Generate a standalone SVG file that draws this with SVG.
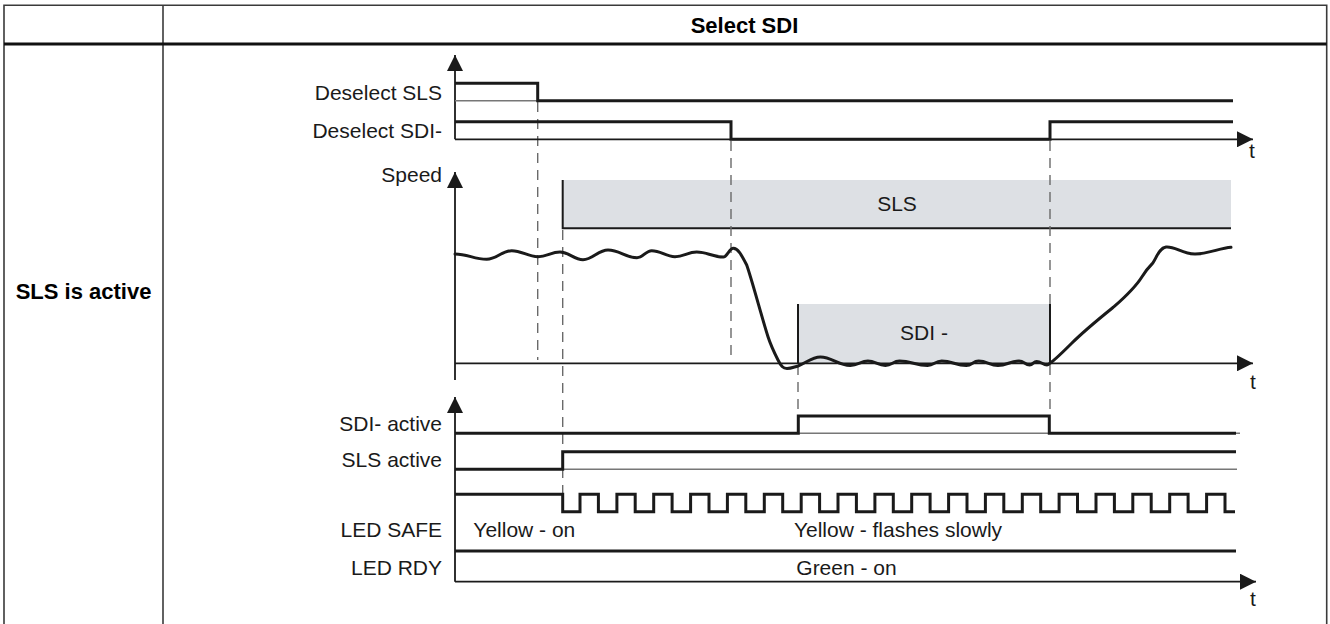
<svg xmlns="http://www.w3.org/2000/svg" width="1330" height="624" viewBox="0 0 1330 624">
<style>
.tbl{stroke:#3a3a3a;stroke-width:1.6;fill:none}
.hdr{stroke:#111;stroke-width:3.2;fill:none}
.lbl{font-family:"Liberation Sans",Arial,Helvetica,sans-serif;font-size:21px;fill:#1a1a1a}
.r{text-anchor:end}
.m{text-anchor:middle}
.bold{font-family:"Liberation Sans",Arial,Helvetica,sans-serif;font-size:22px;font-weight:bold;fill:#000}
.sig{stroke:#1a1a1a;stroke-width:3;fill:none;stroke-linejoin:miter}
.base{stroke:#777;stroke-width:1.4;fill:none}
.axis{stroke:#1a1a1a;stroke-width:1.8;fill:none}
.dash{stroke:#6a6a6a;stroke-width:1.4;fill:none;stroke-dasharray:10 7}
.box{fill:#dde0e4;stroke:none}
.edge{stroke:#1a1a1a;stroke-width:2;fill:none}
.curve{stroke:#1a1a1a;stroke-width:3;fill:none;stroke-linecap:round;stroke-linejoin:round}
</style>
<defs>
<marker id="arr" viewBox="0 0 16 16" refX="16" refY="8" markerWidth="16" markerHeight="16" markerUnits="userSpaceOnUse" orient="auto"><path d="M0,0 L16,8 L0,16 Z" fill="#1a1a1a"/></marker>
</defs>
<rect width="1330" height="624" fill="#fff"/>
<g id="table">
<path class="tbl" d="M4,630 V5.3 H1326.7 V630"/>
<path class="tbl" d="M163,5.3 V630"/>
<path class="hdr" d="M4,44 H1326.7"/>
<text class="bold m" x="744.5" y="33">Select SDI</text>
<text class="bold m" x="83.5" y="299">SLS is active</text>
</g>
<g id="labels">
<text class="lbl r" x="442" y="100">Deselect SLS</text>
<text class="lbl r" x="442" y="138">Deselect SDI-</text>
<text class="lbl r" x="442" y="181.5">Speed</text>
<text class="lbl r" x="442" y="431">SDI- active</text>
<text class="lbl r" x="442" y="467">SLS active</text>
<text class="lbl r" x="442" y="537">LED SAFE</text>
<text class="lbl r" x="442" y="575">LED RDY</text>
<text class="lbl" x="1252" y="158" text-anchor="middle">t</text>
<text class="lbl" x="1253" y="389" text-anchor="middle">t</text>
<text class="lbl" x="1253" y="606" text-anchor="middle">t</text>
</g>
<g id="sls-zone">
<rect class="box" x="562.7" y="180" width="668.3" height="48.3"/>
<path class="edge" d="M562.7,180 V228.3 H1231"/>
<text class="lbl m" x="897" y="211">SLS</text>
</g>
<g id="sdi-zone">
<rect class="box" x="798" y="304" width="252" height="59"/>
<path class="edge" d="M798,304 V363 M1050,304 V363"/>
<text class="lbl m" x="924" y="340">SDI -</text>
</g>
<g id="connectors">
<path class="dash" d="M537.7,102 V360"/>
<path class="dash" d="M562.7,230 V494"/>
<path class="dash" d="M731,141 V362"/>
<path class="dash" d="M798,365 V416"/>
<path class="dash" d="M1050,141 V304 M1050,365 V416"/>
<path class="axis" d="M455,139.3 V55" marker-end="url(#arr)"/>
<path class="axis" d="M455,139.3 H1253" marker-end="url(#arr)"/>
<path class="axis" d="M455,380 V172" marker-end="url(#arr)"/>
<path class="axis" d="M455,363.3 H1253" marker-end="url(#arr)"/>
<path class="axis" d="M455,581.7 V397" marker-end="url(#arr)"/>
<path class="axis" d="M455,581.7 H1256" marker-end="url(#arr)"/>
</g>
<g id="deselect-sls">
<path class="base" d="M455,100.7 H537.7"/>
<path class="sig" d="M455,83.3 H537.7 V100.7 H1233"/>
</g>
<g id="deselect-sdi">
<path class="sig" d="M455,121.7 H731 V139.3 H1050 V121.7 H1233"/>
</g>
<g id="speed">
<path class="curve" d="M455,254 C467.7,254 474,259.3 486.7,259.3 C496.7,259.3 501.7,250.7 511.7,250.7 C522.2,250.7 527.5,256.7 538,256.7 C546.8,256.7 551.2,252 560,252 C569.2,252 573.8,259.7 583,259.7 C593,259.7 598,250 608,250 C619.6,250 625.4,257.7 637,257.7 C643,257.7 645.8,250.7 651.7,250.7 C661,250.7 665.7,256.7 675,256.7 C683.7,256.7 688,252 696.7,252 C707.3,252 712.7,257 723.3,257 C727.3,257 729.3,248.3 733.3,248.3 C738,248.3 741,254 746.7,265 C752,280 762,318 768,336.7 C771,346 774,352 778,360 C781,366 783,368.5 787,368.5 C791,368.5 794,367 798,366 C806,363 812,357 820.4,357 C832,357 838,365.5 850.3,365.5 C858,365.5 861,361 867.9,361 C875,361 878,365.5 885.4,365.5 C892,365.5 893,361 899.5,361 C911,361 916,365.5 927.6,365.5 C934,365.5 935,361 941.7,361 C952,361 956,365.5 966.3,365.5 C972,365.5 973,361 978.6,361 C987,361 990,365.5 997.9,365.5 C1007,365.5 1010,361 1019,361 C1024,361 1025,365 1029.6,365 C1033,365 1033.5,361.5 1036.6,361.5 C1041,361.5 1043,365 1047,365 C1048.5,365 1049,364 1050,363.3 C1056,359 1064,351 1071.7,343.3 C1085,330 1100,318 1114,306.7 C1125,297 1135,288 1142,276.7 C1146,270 1149,267 1152.6,263.3 C1157,257 1159,248 1166,247 C1175,246 1182,254 1195,254 C1208,254 1220,248 1231,247.3"/>
</g>
<g id="sdi-active">
<path class="base" d="M798,433.3 H1240"/>
<path class="sig" d="M455,433.3 H798.3 V416 H1049.3 V433.3 H1236"/>
</g>
<g id="sls-active">
<path class="base" d="M562.7,469.3 H1237"/>
<path class="sig" d="M455,469.3 H562.7 V451.7 H1236"/>
</g>
<g id="led-safe">
<path class="sig" d="M455,494.3 H562.7 V511.7 H580 V494.3 H598.4 V511.7 H616.9 V494.3 H635.2 V511.7 H653.7 V494.3 H672.1 V511.7 H690.6 V494.3 H709 V511.7 H727.4 V494.3 H745.8 V511.7 H764.3 V494.3 H782.7 V511.7 H801.2 V494.3 H819.6 V511.7 H838 V494.3 H856.4 V511.7 H874.9 V494.3 H893.3 V511.7 H911.7 V494.3 H930.1 V511.7 H948.6 V494.3 H967 V511.7 H985.4 V494.3 H1003.8 V511.7 H1022.3 V494.3 H1040.7 V511.7 H1059.1 V494.3 H1077.5 V511.7 H1096 V494.3 H1114.4 V511.7 H1132.8 V494.3 H1151.2 V511.7 H1169.7 V494.3 H1188.1 V511.7 H1206.6 V494.3 H1225 V511.7 H1235"/>
<text class="lbl" x="473.3" y="537.3">Yellow - on</text>
<text class="lbl m" x="898" y="537.3">Yellow - flashes slowly</text>
</g>
<g id="led-rdy">
<path class="sig" d="M455,551 H1236"/>
<text class="lbl m" x="846.5" y="575">Green - on</text>
</g>
</svg>
